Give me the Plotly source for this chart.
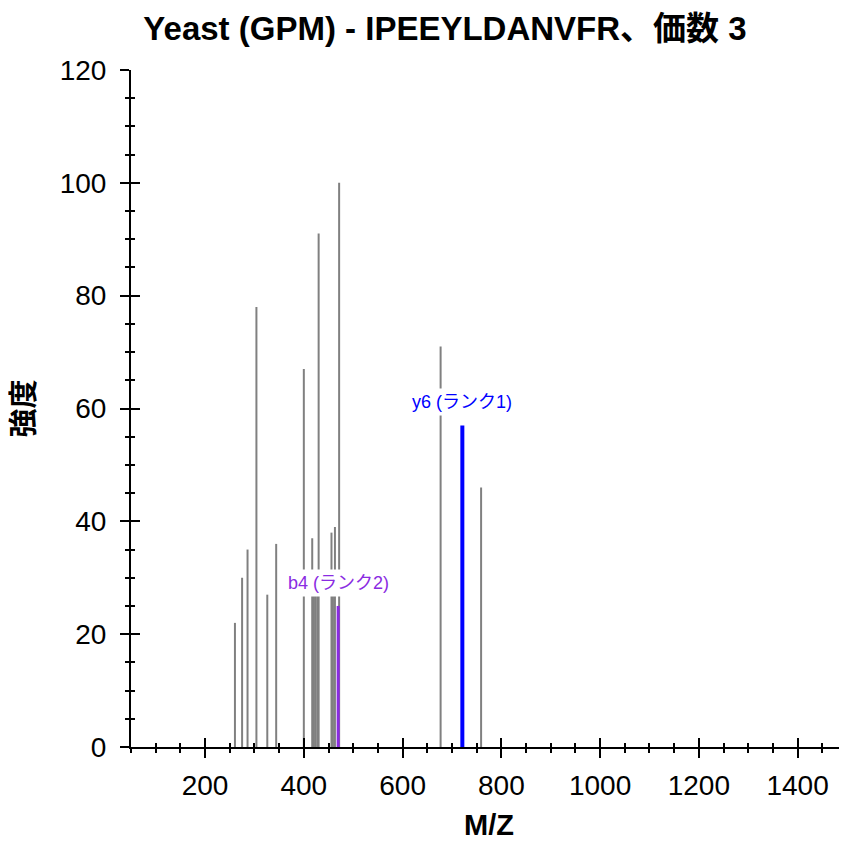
import plotly.graph_objects as go

# ---- data ----
gray_mz = [260.5, 275, 286, 304, 326, 344, 400, 417, 420.5, 424, 427.5, 430, 456, 459, 463, 471.5, 677, 759]
gray_int = [22, 30, 35, 78, 27, 36, 67, 37, 29, 30, 29, 91, 38, 29, 39, 100, 71, 46]

ion_labels = ["b4 (ランク2)", "y6 (ランク1)"]
ion_mz = [469.5, 721]
ion_int = [25, 57]
ion_colors = ["#8A2BE2", "#0000FF"]
ion_widths = [3, 4]

title_text = "Yeast (GPM) - IPEEYLDANVFR、価数 3"
x_title = "M/Z"
y_title = "強度"
x_range = [50, 1500]
y_range = [0, 120]

FONT = "Liberation Sans, Arial, Noto Sans CJK JP, sans-serif"


def stems(xs, ys):
    sx, sy = [], []
    for x, y in zip(xs, ys):
        sx += [x, x, None]
        sy += [0, y, None]
    return sx, sy


fig = go.Figure()
gx, gy = stems(gray_mz, gray_int)
fig.add_trace(go.Scatter(x=gx, y=gy, mode="lines", line=dict(color="#808080", width=2),
                         hoverinfo="skip", showlegend=False))
for lab, mz, it, col, w in zip(ion_labels, ion_mz, ion_int, ion_colors, ion_widths):
    sx, sy = stems([mz], [it])
    fig.add_trace(go.Scatter(x=sx, y=sy, mode="lines", line=dict(color=col, width=w),
                             name=lab, showlegend=False))
    fig.add_annotation(x=mz, y=it, text=lab, showarrow=False, yanchor="bottom", yshift=9,
                       bgcolor="white", font=dict(color=col, size=18, family=FONT), borderpad=3)

# invisible trace for the overlay axes (inside ticks)
fig.add_trace(go.Scatter(x=[], y=[], xaxis="x2", yaxis="y2", showlegend=False))

axis_common = dict(showgrid=False, zeroline=False, showline=True, linecolor="black", linewidth=2,
                   tickcolor="black", tickwidth=2, ticklen=9, automargin=False)

W, H = 839, 833  # page body has an 8px margin

fig.update_layout(
    width=W, height=H,
    margin=dict(l=123, r=0, t=62, b=94),
    paper_bgcolor="white", plot_bgcolor="white",
    font=dict(family=FONT, color="black"),
    title=dict(text=title_text, x=437 / W, xref="container", xanchor="center", y=1 - 20 / H,
               yref="container", yanchor="middle",
               font=dict(size=33, family=FONT, weight="bold", color="black")),
    xaxis=dict(range=x_range, dtick=200, tick0=0, ticks="outside", ticklabelstandoff=3,
               tickfont=dict(size=28), title=dict(text=x_title, font=dict(size=29, weight="bold"), standoff=21),
               minor=dict(dtick=50, tick0=0, ticks="outside", ticklen=4, tickwidth=2, tickcolor="black"),
               **axis_common),
    yaxis=dict(range=y_range, dtick=20, tick0=0, ticks="outside", ticklabelstandoff=8,
               tickfont=dict(size=28), title=dict(text=y_title, font=dict(size=29, weight="bold"), standoff=21),
               minor=dict(dtick=5, tick0=0, ticks="outside", ticklen=4, tickwidth=2, tickcolor="black"),
               **axis_common),
    xaxis2=dict(overlaying="x", range=x_range, dtick=200, tick0=0, ticks="inside", showticklabels=False,
                anchor="y2", side="bottom",
                minor=dict(dtick=50, tick0=0, ticks="inside", ticklen=4, tickwidth=2, tickcolor="black"),
                **axis_common),
    yaxis2=dict(overlaying="y", range=y_range, dtick=20, tick0=0, ticks="inside", showticklabels=False,
                anchor="x2", side="left",
                minor=dict(dtick=5, tick0=0, ticks="inside", ticklen=4, tickwidth=2, tickcolor="black"),
                **axis_common),
)

fig.write_html("out.html")
